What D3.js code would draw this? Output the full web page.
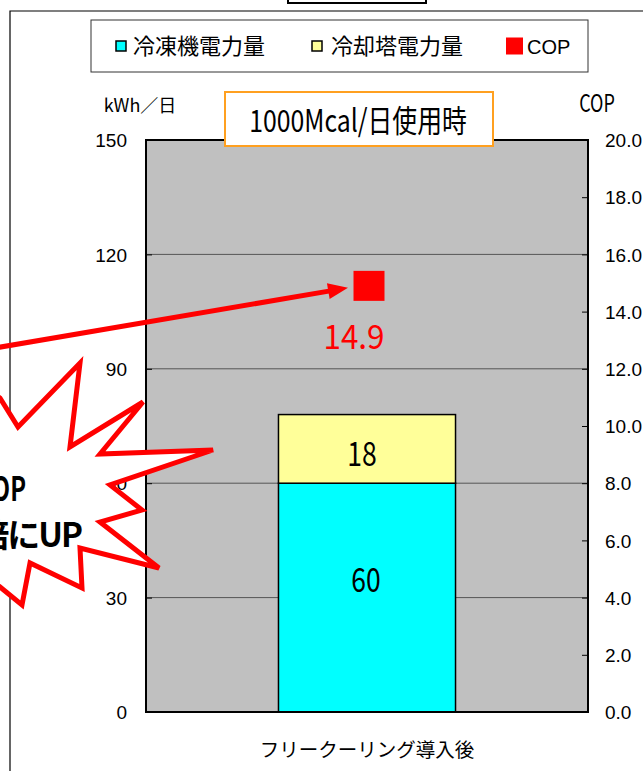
<!DOCTYPE html>
<html><head><meta charset="utf-8">
<script src="https://cdn.jsdelivr.net/npm/d3@7"></script>
<style>
body{margin:0;background:#fff;}
svg{display:block;}
</style></head>
<body>
<svg id="c" width="643" height="771"></svg>
<script>
const categories = ["フリークーリング導入後"];
const chillerPower = [60];
const towerPower = [18];
const cop = [14.9];
const leftTicks = [0, 30, 60, 90, 120, 150];
const rightTicks = [0, 2, 4, 6, 8, 10, 12, 14, 16, 18, 20];
const legendLabels = ["冷凍機電力量", "冷却塔電力量", "COP"];

const svg = d3.select("#c");
const jp = "'Noto Sans CJK JP','Noto Sans',sans-serif";
const lat = "'Liberation Sans',Arial,sans-serif";

const plot = {l:146, r:588, t:140, b:712};

// outer frame
svg.append("path").attr("d","M10,780 L10,11 L660,11").attr("fill","none").attr("stroke","#000").attr("stroke-width",1.2);
svg.append("rect").attr("x",288).attr("y",-20).attr("width",138).attr("height",23).attr("fill","#fff").attr("stroke","#000").attr("stroke-width",2);

const x = d3.scaleBand().domain(categories).range([plot.l, plot.r]).paddingInner(0.428).paddingOuter(0.428);
const yL = d3.scaleLinear().domain([0,150]).range([plot.b, plot.t]);
const yR = d3.scaleLinear().domain([0,20]).range([plot.b, plot.t]);
const cx = d => x(d) + x.bandwidth()/2;

// plot bg
svg.append("rect").attr("x",plot.l).attr("y",plot.t).attr("width",plot.r-plot.l).attr("height",plot.b-plot.t).attr("fill","#c0c0c0");

// gridlines
svg.append("g").selectAll("line").data(leftTicks.filter(d=>d>0&&d<150)).join("line")
  .attr("x1",plot.l).attr("x2",plot.r).attr("y1",d=>yL(d)).attr("y2",d=>yL(d))
  .attr("stroke","#555").attr("stroke-width",1);

// bars
const g = svg.append("g");
g.selectAll(".b1").data(categories).join("rect")
  .attr("x",d=>x(d)).attr("width",x.bandwidth())
  .attr("y",(d,i)=>yL(chillerPower[i])).attr("height",(d,i)=>yL(0)-yL(chillerPower[i]))
  .attr("fill","#00ffff").attr("stroke","#000").attr("stroke-width",1.5);
g.selectAll(".b2").data(categories).join("rect")
  .attr("x",d=>x(d)).attr("width",x.bandwidth())
  .attr("y",(d,i)=>yL(chillerPower[i]+towerPower[i])).attr("height",(d,i)=>yL(chillerPower[i])-yL(chillerPower[i]+towerPower[i]))
  .attr("fill","#ffff99").attr("stroke","#000").attr("stroke-width",1.5);

// bar labels
g.selectAll(".l1").data(categories).join("text")
  .attr("x",d=>cx(d)-1).attr("y",(d,i)=>yL(chillerPower[i]/2)-6)
  .attr("text-anchor","middle").attr("font-family",jp).attr("font-size",34)
  .attr("transform-origin",d=>`${cx(d)-1}px 0px`).style("transform","scaleX(0.78)")
  .text((d,i)=>chillerPower[i]);
g.selectAll(".l2").data(categories).join("text")
  .attr("x",d=>cx(d)-5).attr("y",(d,i)=>yL(chillerPower[i]+towerPower[i]/2)+17)
  .attr("text-anchor","middle").attr("font-family",jp).attr("font-size",34)
  .attr("transform-origin",d=>`${cx(d)-5}px 0px`).style("transform","scaleX(0.78)")
  .text((d,i)=>towerPower[i]);

// plot border
svg.append("rect").attr("x",plot.l).attr("y",plot.t).attr("width",plot.r-plot.l).attr("height",plot.b-plot.t).attr("fill","none").attr("stroke","#000").attr("stroke-width",2);

// left axis
const axL = svg.append("g").attr("transform",`translate(${plot.l},0)`)
  .call(d3.axisLeft(yL).tickValues(leftTicks).tickSize(-6).tickPadding(19));
axL.select(".domain").remove();
axL.selectAll("line").attr("stroke","#000");
axL.selectAll("text").attr("font-family",lat).attr("font-size",19).attr("fill","#000").attr("dy","0.35em");

// right axis
const axR = svg.append("g").attr("transform",`translate(${plot.r},0)`)
  .call(d3.axisRight(yR).tickValues(rightTicks).tickSize(-6).tickPadding(17).tickFormat(d3.format(".1f")));
axR.select(".domain").remove();
axR.selectAll("line").attr("stroke","#000");
axR.selectAll("text").attr("font-family",lat).attr("font-size",19).attr("fill","#000").attr("dy","0.35em");

// axis titles
svg.append("text").attr("x",140).attr("y",112).attr("text-anchor","middle").attr("font-family",jp).attr("font-size",18).text("kWh／日");
svg.append("text").attr("x",597).attr("y",112).attr("text-anchor","middle").attr("font-family",jp).attr("font-size",24)
  .attr("transform-origin","597px 0px").style("transform","scaleX(0.75)").text("COP");

// category label
svg.append("text").attr("x",cx(categories[0])).attr("y",757).attr("text-anchor","middle")
  .attr("font-family",jp).attr("font-size",19.5).text(categories[0]);

// COP point
svg.append("g").selectAll("rect").data(categories).join("rect")
  .attr("x",d=>cx(d)-13.5).attr("y",(d,i)=>yR(cop[i])-15).attr("width",31).attr("height",30).attr("fill","#ff0000");
svg.append("g").selectAll("text").data(categories).join("text")
  .attr("x",d=>cx(d)-13).attr("y",(d,i)=>yR(cop[i])+63).attr("text-anchor","middle")
  .attr("font-family",jp).attr("font-size",34).attr("fill","#ff0000")
  .attr("textLength",61).attr("lengthAdjust","spacingAndGlyphs")
  .text((d,i)=>cop[i].toFixed(1));

// arrow
const tipX = cx(categories[0])-19, tipY = yR(cop[0])+2;
const sx = -5, sy = 348;
const ang = Math.atan2(tipY-sy, tipX-sx);
const L=20, W=8;
const bx = tipX - L*Math.cos(ang), by = tipY - L*Math.sin(ang);
svg.append("line").attr("x1",sx).attr("y1",sy).attr("x2",bx+2*Math.cos(ang)).attr("y2",by+2*Math.sin(ang))
  .attr("stroke","#ff0000").attr("stroke-width",5);
const px = -Math.sin(ang), py = Math.cos(ang);
svg.append("path").attr("d",`M${tipX},${tipY} L${bx+px*W},${by+py*W} L${bx-px*W},${by-py*W} Z`).attr("fill","#ff0000");

// starburst
const star = [[-30,380],[0,398],[18,427],[80,363],[70,447],[143,402],[100,454],[213,450],[110,485],[142,510],[100,522],[159,568],[80,548],[82,588],[30,563],[22,605],[0,587],[-30,600]];
svg.append("path").attr("d","M"+star.map(p=>p.join(",")).join(" L")+" Z")
  .attr("fill","#fff").attr("stroke","#ff0000").attr("stroke-width",5).attr("stroke-linejoin","miter");
svg.append("text").attr("x",26).attr("y",501).attr("text-anchor","end").attr("font-family",jp).attr("font-weight","bold").attr("font-size",33)
  .attr("transform-origin","26px 0px").style("transform","scaleX(0.72)").text("COP");
svg.append("text").attr("x",81).attr("y",547).attr("text-anchor","end").attr("font-family",jp).attr("font-weight","bold").attr("font-size",33).attr("letter-spacing",-2).text("2倍にUP");

// title box
svg.append("rect").attr("x",225).attr("y",92).attr("width",268).attr("height",54).attr("fill","#fff").attr("stroke","#ffa020").attr("stroke-width",2);
svg.append("text").attr("x",358).attr("y",132).attr("text-anchor","middle").attr("font-family",jp).attr("font-size",31)
  .attr("transform-origin","358px 0px").style("transform","scaleX(0.8)").text("1000Mcal/日使用時");

// legend
svg.append("rect").attr("x",91).attr("y",20).attr("width",497).attr("height",52).attr("fill","#fff").attr("stroke","#333").attr("stroke-width",1);
const leg = [
  {sx:116, tx:133, fill:"#00ffff", s:10, stroke:"#000", fs:22},
  {sx:312, tx:331, fill:"#ffff99", s:10, stroke:"#000", fs:22},
  {sx:506, tx:527, fill:"#ff0000", s:17, stroke:"none", fs:20}
];
leg.forEach((d,i)=>{
  svg.append("rect").attr("x",d.sx).attr("y",46-d.s/2).attr("width",d.s).attr("height",d.s).attr("fill",d.fill).attr("stroke",d.stroke).attr("stroke-width",1.5);
  svg.append("text").attr("x",d.tx).attr("y",54).attr("font-family",i==2?lat:jp).attr("font-size",d.fs).text(legendLabels[i]);
});
</script>
</body></html>
